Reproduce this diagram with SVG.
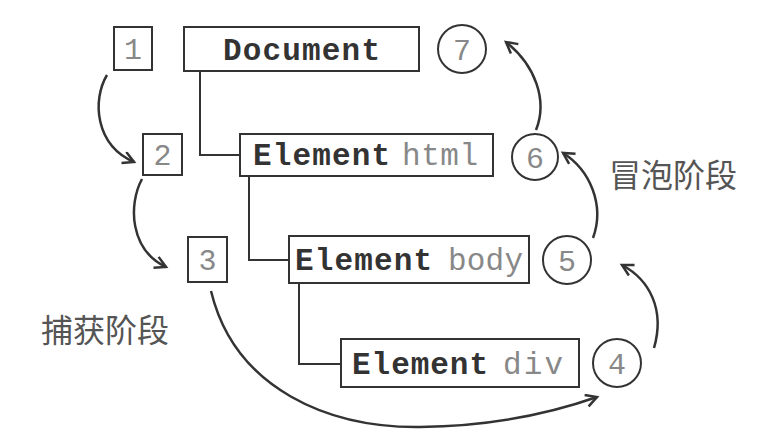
<svg xmlns="http://www.w3.org/2000/svg" width="758" height="440" viewBox="0 0 758 440">
<defs>
<style>
.box{fill:#fff;stroke:#333;stroke-width:2}
.circ{fill:#fff;stroke:#333;stroke-width:2}
.num{font-family:"Liberation Mono","DejaVu Sans Mono",monospace;font-size:30px;fill:#888;text-anchor:middle}
.kw{font-family:"Liberation Mono","DejaVu Sans Mono",monospace;font-size:31px;font-weight:bold;fill:#333}
.tag{font-family:"Liberation Mono","DejaVu Sans Mono",monospace;font-size:31px;fill:#888}
.cjk{font-family:"Noto Sans CJK SC","Noto Sans",sans-serif;font-size:32px;fill:#555}
.tree{fill:none;stroke:#333;stroke-width:2}
.arr{fill:none;stroke:#333;stroke-width:2.5;marker-end:url(#ah)}
</style>
<marker id="ah" markerUnits="userSpaceOnUse" markerWidth="16" markerHeight="16" refX="12" refY="7" orient="auto">
<path d="M1,1 L12,7 L1,13" fill="none" stroke="#333" stroke-width="2.5"/>
</marker>
</defs>
<rect width="758" height="440" fill="#fff"/>
<g id="connectors">
<path class="tree" d="M200,71 V155 H240"/>
<path class="tree" d="M249,176 V260 H289"/>
<path class="tree" d="M299,283 V364 H341"/>
<path class="arr" d="M107,75 C92,100 95,145 134,162"/>
<path class="arr" d="M142,179 C128,205 130,250 166,267"/>
<path class="arr" d="M211,291 C235,390 330,428 420,427 C500,426 560,410 597,397"/>
<path class="arr" d="M654,348 C665,310 650,280 622,265"/>
<path class="arr" d="M593,238 C605,205 590,170 563,153"/>
<path class="arr" d="M536,130 C548,100 535,65 506,42"/>
</g>
<g id="step1"><rect class="box" x="114" y="27" width="38" height="43"/><text class="num" x="133" y="59">1</text></g>
<g id="step2"><rect class="box" x="143" y="134" width="39" height="41"/><text class="num" x="162.5" y="165">2</text></g>
<g id="step3"><rect class="box" x="188" y="237" width="39" height="45"/><text class="num" x="207.5" y="270">3</text></g>
<g id="document"><rect class="box" x="184" y="27" width="235" height="44"/><text class="kw" x="223" y="60" textLength="157">Document</text></g>
<g id="html"><rect class="box" x="240" y="134" width="253" height="42"/><text class="kw" x="253" y="165" textLength="137">Element</text><text class="tag" x="402" y="165" textLength="76">html</text></g>
<g id="body"><rect class="box" x="289" y="236" width="240" height="47"/><text class="kw" x="295" y="270" textLength="137">Element</text><text class="tag" x="448" y="270" textLength="75">body</text></g>
<g id="div"><rect class="box" x="341" y="339" width="238" height="48"/><text class="kw" x="352" y="374" textLength="136">Element</text><text class="tag" x="503" y="374" textLength="60">div</text></g>
<g id="step7"><circle class="circ" cx="462" cy="49" r="24"/><text class="num" x="462" y="60">7</text></g>
<g id="step6"><circle class="circ" cx="535" cy="157" r="23"/><text class="num" x="535" y="168">6</text></g>
<g id="step5"><circle class="circ" cx="567" cy="260" r="24"/><text class="num" x="567" y="271">5</text></g>
<g id="step4"><circle class="circ" cx="617" cy="363" r="24"/><text class="num" x="617" y="374">4</text></g>
<g id="bubble"><text class="cjk" x="609" y="187">冒泡阶段</text></g>
<g id="capture"><text class="cjk" x="41" y="342">捕获阶段</text></g>
</svg>
